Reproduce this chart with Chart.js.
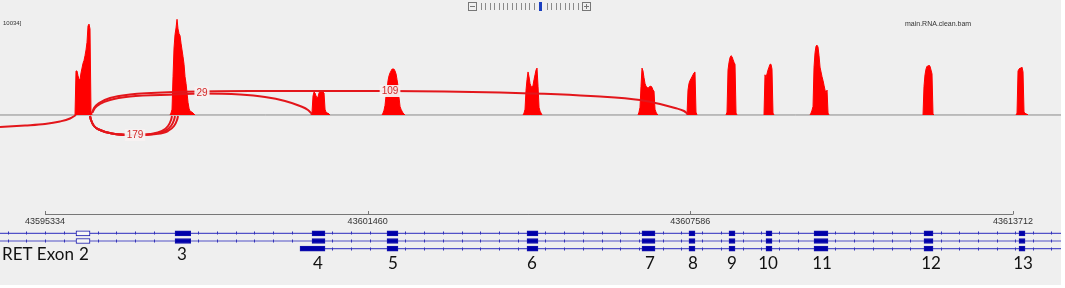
<!DOCTYPE html>
<html lang="en">
<head>
<meta charset="UTF-8">
<title>RET sashimi plot</title>
<script src="https://cdn.jsdelivr.net/npm/chart.js"></script>
<style>
  body { margin: 0; background: #fff; }
  #panel { position: relative; width: 1061px; height: 285px; background: #efefef; }
  #covBox { position: absolute; left: 0; top: 0; }
  #trkBox { position: absolute; left: 0; top: 200px; }
</style>
</head>
<body>
<div id="panel">
  <div id="covBox"><canvas id="covChart" width="1061" height="200"></canvas></div>
  <div id="trkBox"><canvas id="trkChart" width="1061" height="85"></canvas></div>
</div>
<script>
// genomic window on screen
const viewStart = 43594480;
const viewEnd = 43614624;
const covBin = 19;   // bp per coverage bin

// read coverage, one array per exon (first bin position, then depth of each bin)
const covStarts = [43595904, 43597708, 43600385, 43601733, 43604410, 43606593,
                   43607523, 43608264, 43608985, 43609859, 43612004, 43613770];
const covDepths = [
  [0, 4600, 4600, 4100, 3700, 3700, 4400, 4900, 5400, 5700, 6200, 6800, 7600, 9300, 9500, 9000, 300, 0],
  [0, 200, 600, 4000, 7000, 8400, 9100, 10000, 9000, 8500, 8300, 7500, 6800, 6100, 5300, 4000, 3300, 2300, 1300, 700, 400, 350, 300, 200, 100, 0],
  [0, 300, 2000, 2400, 2300, 2000, 1800, 1900, 2300, 2500, 2500, 2400, 2400, 2300, 600, 300, 200, 200, 100, 0],
  [0, 200, 500, 1000, 2000, 2600, 3600, 4100, 4400, 4600, 4800, 4800, 4800, 4600, 4300, 3700, 3000, 1800, 900, 600, 400, 200, 100, 0],
  [0, 200, 600, 2600, 3700, 4500, 4000, 3300, 3000, 2900, 3100, 3700, 4200, 4700, 4900, 3000, 800, 400, 200, 0],
  [0, 300, 800, 3000, 4900, 4600, 3900, 3300, 3000, 2900, 2800, 2900, 3000, 3000, 2900, 2600, 2500, 600, 300, 100, 0],
  [0, 2600, 3300, 3600, 3800, 4000, 4200, 4400, 4500, 300, 0],
  [0, 300, 4700, 5500, 6000, 6200, 6100, 5800, 5500, 5300, 200, 0],
  [0, 4200, 3900, 4300, 4700, 5000, 5300, 5300, 4800, 200, 0],
  [0, 200, 500, 900, 5000, 6500, 7200, 7300, 7100, 6200, 5000, 4500, 4000, 3600, 3100, 2600, 2300, 2600, 200, 0],
  [0, 3000, 4200, 4800, 5100, 5100, 5200, 5100, 4700, 4300, 100, 0],
  [0, 200, 4600, 4800, 4900, 4900, 5000, 4500, 300, 200, 100, 100, 0]
];

// splice junction arcs: [position, height]; below the axis is negative
const arcIn = [[43594480, -1254], [43594955, -1097], [43595334, -941], [43595619, -679], [43595809, -366], [43595923, 0]];
const arc179a = [[43596189, -105], [43596208, -523], [43596265, -1150], [43596379, -1568], [43596606, -1933], [43597005, -2090],
                 [43597328, -1986], [43597556, -1672], [43597670, -1150], [43597727, -523], [43597746, -105]];
const arc179b = [[43596189, -105], [43596208, -523], [43596265, -1150], [43596379, -1568], [43596606, -1933], [43597005, -2090],
                 [43597385, -1986], [43597613, -1672], [43597727, -1150], [43597784, -523], [43597803, -105]];
const arc179c = [[43596189, -105], [43596208, -523], [43596265, -1150], [43596379, -1568], [43596606, -1933], [43597005, -2090],
                 [43597442, -1986], [43597670, -1672], [43597784, -1150], [43597841, -523], [43597860, -105]];
const arc29 = [[43596227, 209], [43596284, 732], [43596379, 1150], [43596568, 1568], [43596948, 1933], [43597803, 2142],
               [43598277, 2247], [43599037, 2142], [43599511, 1881], [43599891, 1463], [43600176, 941], [43600328, 523], [43600404, 105]];
const arc109 = [[43596227, 209], [43596265, 732], [43596360, 1254], [43596568, 1777], [43596948, 2142], [43597803, 2404],
                [43599227, 2508], [43601885, 2508], [43603973, 2351], [43605872, 1933], [43606631, 1568], [43607011, 1150],
                [43607296, 732], [43607466, 418], [43607542, 105]];
const arcLabels = ['29', '109', '179'];
const arcLabelPos = [43598315, 43601885, 43597043];
const arcLabelHeight = [2351, 2508, -2090];

// RET gene model
const exonNames = ['2', '3', '4', '5', '6', '7', '8', '9', '10', '11', '12', '13'];
const exonStarts = [43595923, 43597803, 43600404, 43601828, 43604486, 43606669, 43607561, 43608321, 43609023, 43609935, 43612023, 43613827];
const exonEnds = [43596189, 43598100, 43600650, 43602036, 43604694, 43606916, 43607675, 43608435, 43609137, 43610200, 43612194, 43613941];
const exonCoding = [false, true, true, true, true, true, true, true, true, true, true, true];
const exonLabelPos = [43596075, 43597935, 43600518, 43601941, 43604581, 43606821, 43607637, 43608378, 43609061, 43610087, 43612156, 43613903];
const transcriptStarts = [viewStart, viewStart, 43600176];
const transcriptExons = [[0, 1, 2, 3, 4, 5, 6, 7, 8, 9, 10, 11], [0, 1, 2, 3, 4, 5, 6, 7, 8, 9, 10, 11], [2, 3, 4, 5, 6, 7, 8, 9, 10, 11]];
const rulerTicks = [43595334, 43601460, 43607586, 43613712];

// ---------- coverage + junction chart ----------
const covSets = covDepths.map((depths, i) => ({
  data: depths.map((d, k) => ({ x: covStarts[i] + k * covBin, y: d })),
  borderColor: '#ff0000', backgroundColor: '#ff0000', borderWidth: 1,
  fill: 'origin', pointRadius: 0, tension: 0, order: 1
}));
const arcSets = [arcIn, arc179a, arc179b, arc179c, arc29, arc109].map(pts => ({
  data: pts.map(p => ({ x: p[0], y: p[1] })),
  borderColor: '#e3161b', borderWidth: 2, fill: false, pointRadius: 0,
  cubicInterpolationMode: 'monotone', order: 0
}));
const baseSet = {
  data: [{ x: viewStart, y: 0 }, { x: viewEnd, y: 0 }],
  borderColor: '#8a8a8a', borderWidth: 1, pointRadius: 0, fill: false, order: 2
};

const covDecor = {
  id: 'covDecor',
  afterDatasetsDraw(chart) {
    const { ctx, scales: { x, y } } = chart;
    ctx.save();
    ctx.font = '10px "Liberation Sans", Arial, sans-serif';
    ctx.textAlign = 'center';
    ctx.textBaseline = 'middle';
    arcLabels.forEach((t, i) => {
      const px = x.getPixelForValue(arcLabelPos[i]);
      const py = y.getPixelForValue(arcLabelHeight[i]);
      const w = ctx.measureText(t).width + 4;
      ctx.fillStyle = 'rgba(247,241,241,0.95)';
      ctx.fillRect(px - w / 2, py - 6, w, 12);
      ctx.fillStyle = '#d42a2a';
      ctx.fillText(t, px, py + 0.5);
    });

    // track captions
    ctx.fillStyle = '#333';
    ctx.textAlign = 'left';
    ctx.font = '6px "Liberation Sans", Arial, sans-serif';
    ctx.fillText('10034]', 3, 23);
    ctx.font = '7px "Liberation Sans", Arial, sans-serif';
    ctx.fillText('main.RNA.clean.bam', 905, 24);

    // zoom widget
    ctx.strokeStyle = '#777';
    ctx.lineWidth = 1;
    ctx.strokeRect(468.5, 2.5, 8, 8);
    ctx.strokeRect(582.5, 2.5, 8, 8);
    ctx.beginPath();
    ctx.moveTo(470, 6.5); ctx.lineTo(475, 6.5);
    ctx.moveTo(584, 6.5); ctx.lineTo(589, 6.5);
    ctx.moveTo(586.5, 4); ctx.lineTo(586.5, 9);
    ctx.stroke();
    ctx.fillStyle = '#8a8a8a';
    for (let p = 481; p < 578; p += 4.4) {
      if (Math.abs(p - 541) < 3) continue;
      ctx.fillRect(Math.round(p), 3, 1, 7);
    }
    ctx.fillStyle = '#1a3fc0';
    ctx.fillRect(539, 2, 3, 9);
    ctx.restore();
  }
};

new Chart(document.getElementById('covChart'), {
  type: 'line',
  data: { datasets: [...arcSets, ...covSets, baseSet] },
  options: {
    responsive: false,
    animation: false,
    layout: { padding: 0 },
    plugins: { legend: { display: false }, tooltip: { enabled: false } },
    scales: {
      x: { type: 'linear', min: viewStart, max: viewEnd, display: false },
      y: { type: 'linear', min: -8883, max: 12018, display: false }
    }
  },
  plugins: [covDecor]
});

// ---------- ruler + gene track chart ----------
function rowBlocks(r) {
  return transcriptExons[r].map(e => ({
    s: (r === 2 && e === transcriptExons[2][0]) ? transcriptStarts[2] : exonStarts[e],
    e: exonEnds[e]
  }));
}

const trackBars = [];
transcriptExons.forEach((list, r) => {
  rowBlocks(r).forEach((b, k) => {
    trackBars.push({ x: [b.s, b.e], y: r + 1, coding: exonCoding[list[k]] });
  });
});

const intronSets = transcriptStarts.map((s, r) => ({
  type: 'line',
  data: [{ x: s, y: r + 1 }, { x: viewEnd, y: r + 1 }],
  borderColor: '#5252c8', borderWidth: 1.2, pointRadius: 0, fill: false, order: 1
}));

const trackDecor = {
  id: 'trackDecor',
  afterDatasetsDraw(chart) {
    const { ctx, scales: { x, y } } = chart;
    ctx.save();

    // intron direction marks
    ctx.fillStyle = '#3434b8';
    transcriptStarts.forEach((s, r) => {
      const py = Math.round(y.getPixelForValue(r + 1));
      const blocks = rowBlocks(r);
      let from = x.getPixelForValue(s);
      if (r === 2) from = x.getPixelForValue(blocks[0].e);
      const gaps = [];
      blocks.forEach((b, k) => {
        if (r === 2 && k === 0) return;
        gaps.push([from, x.getPixelForValue(b.s)]);
        from = x.getPixelForValue(b.e);
      });
      gaps.push([from, x.getPixelForValue(viewEnd)]);
      gaps.forEach(([a, b]) => {
        for (let p = a + 7.5; p < b - 3; p += 18.7) {
          ctx.fillRect(Math.round(p), py - 1.5, 1, 3);
        }
      });
    });

    // ruler
    const r0 = x.getPixelForValue(rulerTicks[0]);
    const r1 = x.getPixelForValue(rulerTicks[rulerTicks.length - 1]);
    ctx.strokeStyle = '#777';
    ctx.lineWidth = 1;
    ctx.beginPath();
    ctx.moveTo(r0, 14.5); ctx.lineTo(r1, 14.5);
    rulerTicks.forEach(t => {
      const px = Math.round(x.getPixelForValue(t)) + 0.5;
      ctx.moveTo(px, 11); ctx.lineTo(px, 14.5);
    });
    ctx.stroke();
    ctx.fillStyle = '#333';
    ctx.font = '9px "Liberation Sans", Arial, sans-serif';
    ctx.textAlign = 'center';
    ctx.textBaseline = 'middle';
    rulerTicks.forEach(t => ctx.fillText(String(t), x.getPixelForValue(t), 22));

    // exon numbers
    ctx.fillStyle = '#111';
    ctx.font = '17px Lato, "Open Sans", sans-serif';
    ctx.textAlign = 'left';
    ctx.fillText('RET Exon', 2, 55);
    ctx.textAlign = 'center';
    exonNames.forEach((n, i) => {
      ctx.fillText(n, x.getPixelForValue(exonLabelPos[i]), i < 2 ? 55 : 64);
    });
    ctx.restore();
  }
};

new Chart(document.getElementById('trkChart'), {
  type: 'bar',
  data: {
    datasets: [{
      type: 'bar',
      indexAxis: 'y',
      data: trackBars,
      backgroundColor: c => (c.raw && c.raw.coding) ? '#0000aa' : '#f6f6f6',
      borderColor: '#1212ac',
      borderWidth: 1,
      borderSkipped: false,
      barThickness: 5,
      order: 0
    }, ...intronSets]
  },
  options: {
    responsive: false,
    animation: false,
    layout: { padding: 0 },
    plugins: { legend: { display: false }, tooltip: { enabled: false } },
    scales: {
      x: { type: 'linear', offset: false, grid: { offset: false }, min: viewStart, max: viewEnd, display: false },
      y: { type: 'linear', reverse: true, offset: false, grid: { offset: false }, min: -3.325, max: 7.714, display: false }
    }
  },
  plugins: [trackDecor]
});
</script>
</body>
</html>
